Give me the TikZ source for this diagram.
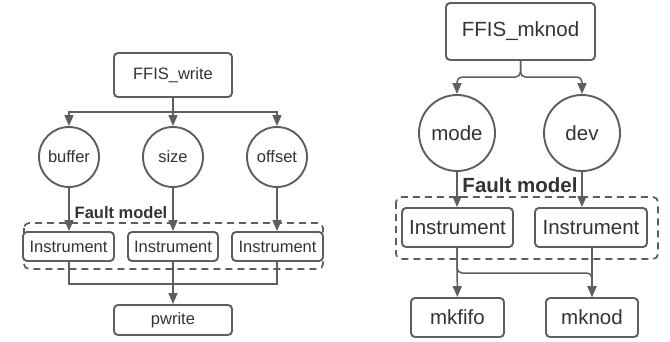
\documentclass[tikz,border=0pt]{standalone}
\usepackage{fontspec}
\setmainfont{Liberation Sans}
\usetikzlibrary{arrows.meta,calc}
\definecolor{ln}{HTML}{5E5E5E}
\definecolor{tx}{HTML}{333333}
\tikzset{
  box/.style={draw=ln,line width=1.9pt,rounded corners=4pt,inner sep=0pt,text=tx,fill=white},
  circ/.style={draw=ln,line width=1.9pt,circle,inner sep=0pt,text=tx,fill=white},
  fm/.style={draw=ln,line width=1.7pt,dashed,dash pattern=on 7pt off 5pt,rounded corners=5pt},
  arr/.style={draw=ln,line width=1.5pt,-{Triangle[length=11pt,width=9pt]}},
  ln/.style={draw=ln,line width=1.5pt},
  lab/.style={text=tx,inner sep=0pt}
}
\begin{document}
\begin{tikzpicture}[x=1pt,y=-1pt]
\useasboundingbox (0,0) rectangle (670,341);
% ---------------- left ----------------
\begin{scope}[font=\fontsize{16.5}{19}\selectfont]
\draw[fm] (24,223) rectangle (323,269);
\node[lab] (fl1) at (121,213) {\bfseries Fault model};
\node[box,minimum width=118pt,minimum height=44pt] (w) at (173,75) {FFIS\_write};
\node[circ,minimum size=60pt] (buf) at (69,157) {buffer};
\node[circ,minimum size=60pt] (siz) at (173,157) {size};
\node[circ,minimum size=60pt] (off) at (277,157) {offset};
\node[box,minimum width=91pt,minimum height=29pt] (i1) at (68.5,246.5) {Instrument};
\node[box,minimum width=90pt,minimum height=29pt] (i2) at (173,246.5) {Instrument};
\node[box,minimum width=91pt,minimum height=29pt] (i3) at (277.5,246.5) {Instrument};
\node[box,minimum width=118pt,minimum height=30pt] (pw) at (173,320) {pwrite};
\coordinate (j1) at (173,112);
\coordinate (j2) at (173,284);
\draw[ln] (w) -- (j1);
\draw[arr] (j1) -| (buf);
\draw[arr] (j1) -- (siz);
\draw[arr] (j1) -| (off);
\draw[arr] (buf) -- (buf |- i1.north);
\draw[arr] (siz) -- (i2);
\draw[arr] (off) -- (off |- i3.north);
\draw[ln] (i1.south -| buf) |- (j2);
\draw[ln] (i3.south -| off) |- (j2);
\draw[arr] (i2) -- (pw);
\end{scope}
% ---------------- right ----------------
\begin{scope}[font=\fontsize{20.5}{23}\selectfont]
\draw[fm] (396,197) rectangle (658,259);
\node[lab] (fl2) at (520,185) {\bfseries Fault model};
\node[box,minimum width=149pt,minimum height=57pt] (mk) at (520.5,31.5) {FFIS\_mknod};
\node[circ,minimum size=76pt] (mode) at (457,133) {mode};
\node[circ,minimum size=76pt] (dev) at (582,133) {dev};
\node[box,minimum width=111pt,minimum height=39pt] (r1) at (457.5,227.5) {Instrument};
\node[box,minimum width=112pt,minimum height=39pt] (r2) at (591,227.5) {Instrument};
\node[box,minimum width=93pt,minimum height=39pt] (mf) at (457.5,317.5) {mkfifo};
\node[box,minimum width=92pt,minimum height=39pt] (mn) at (592,317.5) {mknod};
\coordinate (k1) at (520.5,77);
\draw[arr,rounded corners=5pt] (mk.south) |- (k1) -| (mode);
\draw[arr,rounded corners=5pt] (mk.south) |- (k1) -| (dev);
\draw[arr] (mode) -- (mode |- r1.north);
\draw[arr] (dev) -- (dev |- r2.north);
\draw[arr] (r1.south -| mode) -- (mf);
\draw[arr,rounded corners=5pt] (r1.south -| mode) |- (520,273) -| (mn);
\draw[arr] (r2.south -| mn) -- (mn);
\end{scope}
\end{tikzpicture}
\end{document}
